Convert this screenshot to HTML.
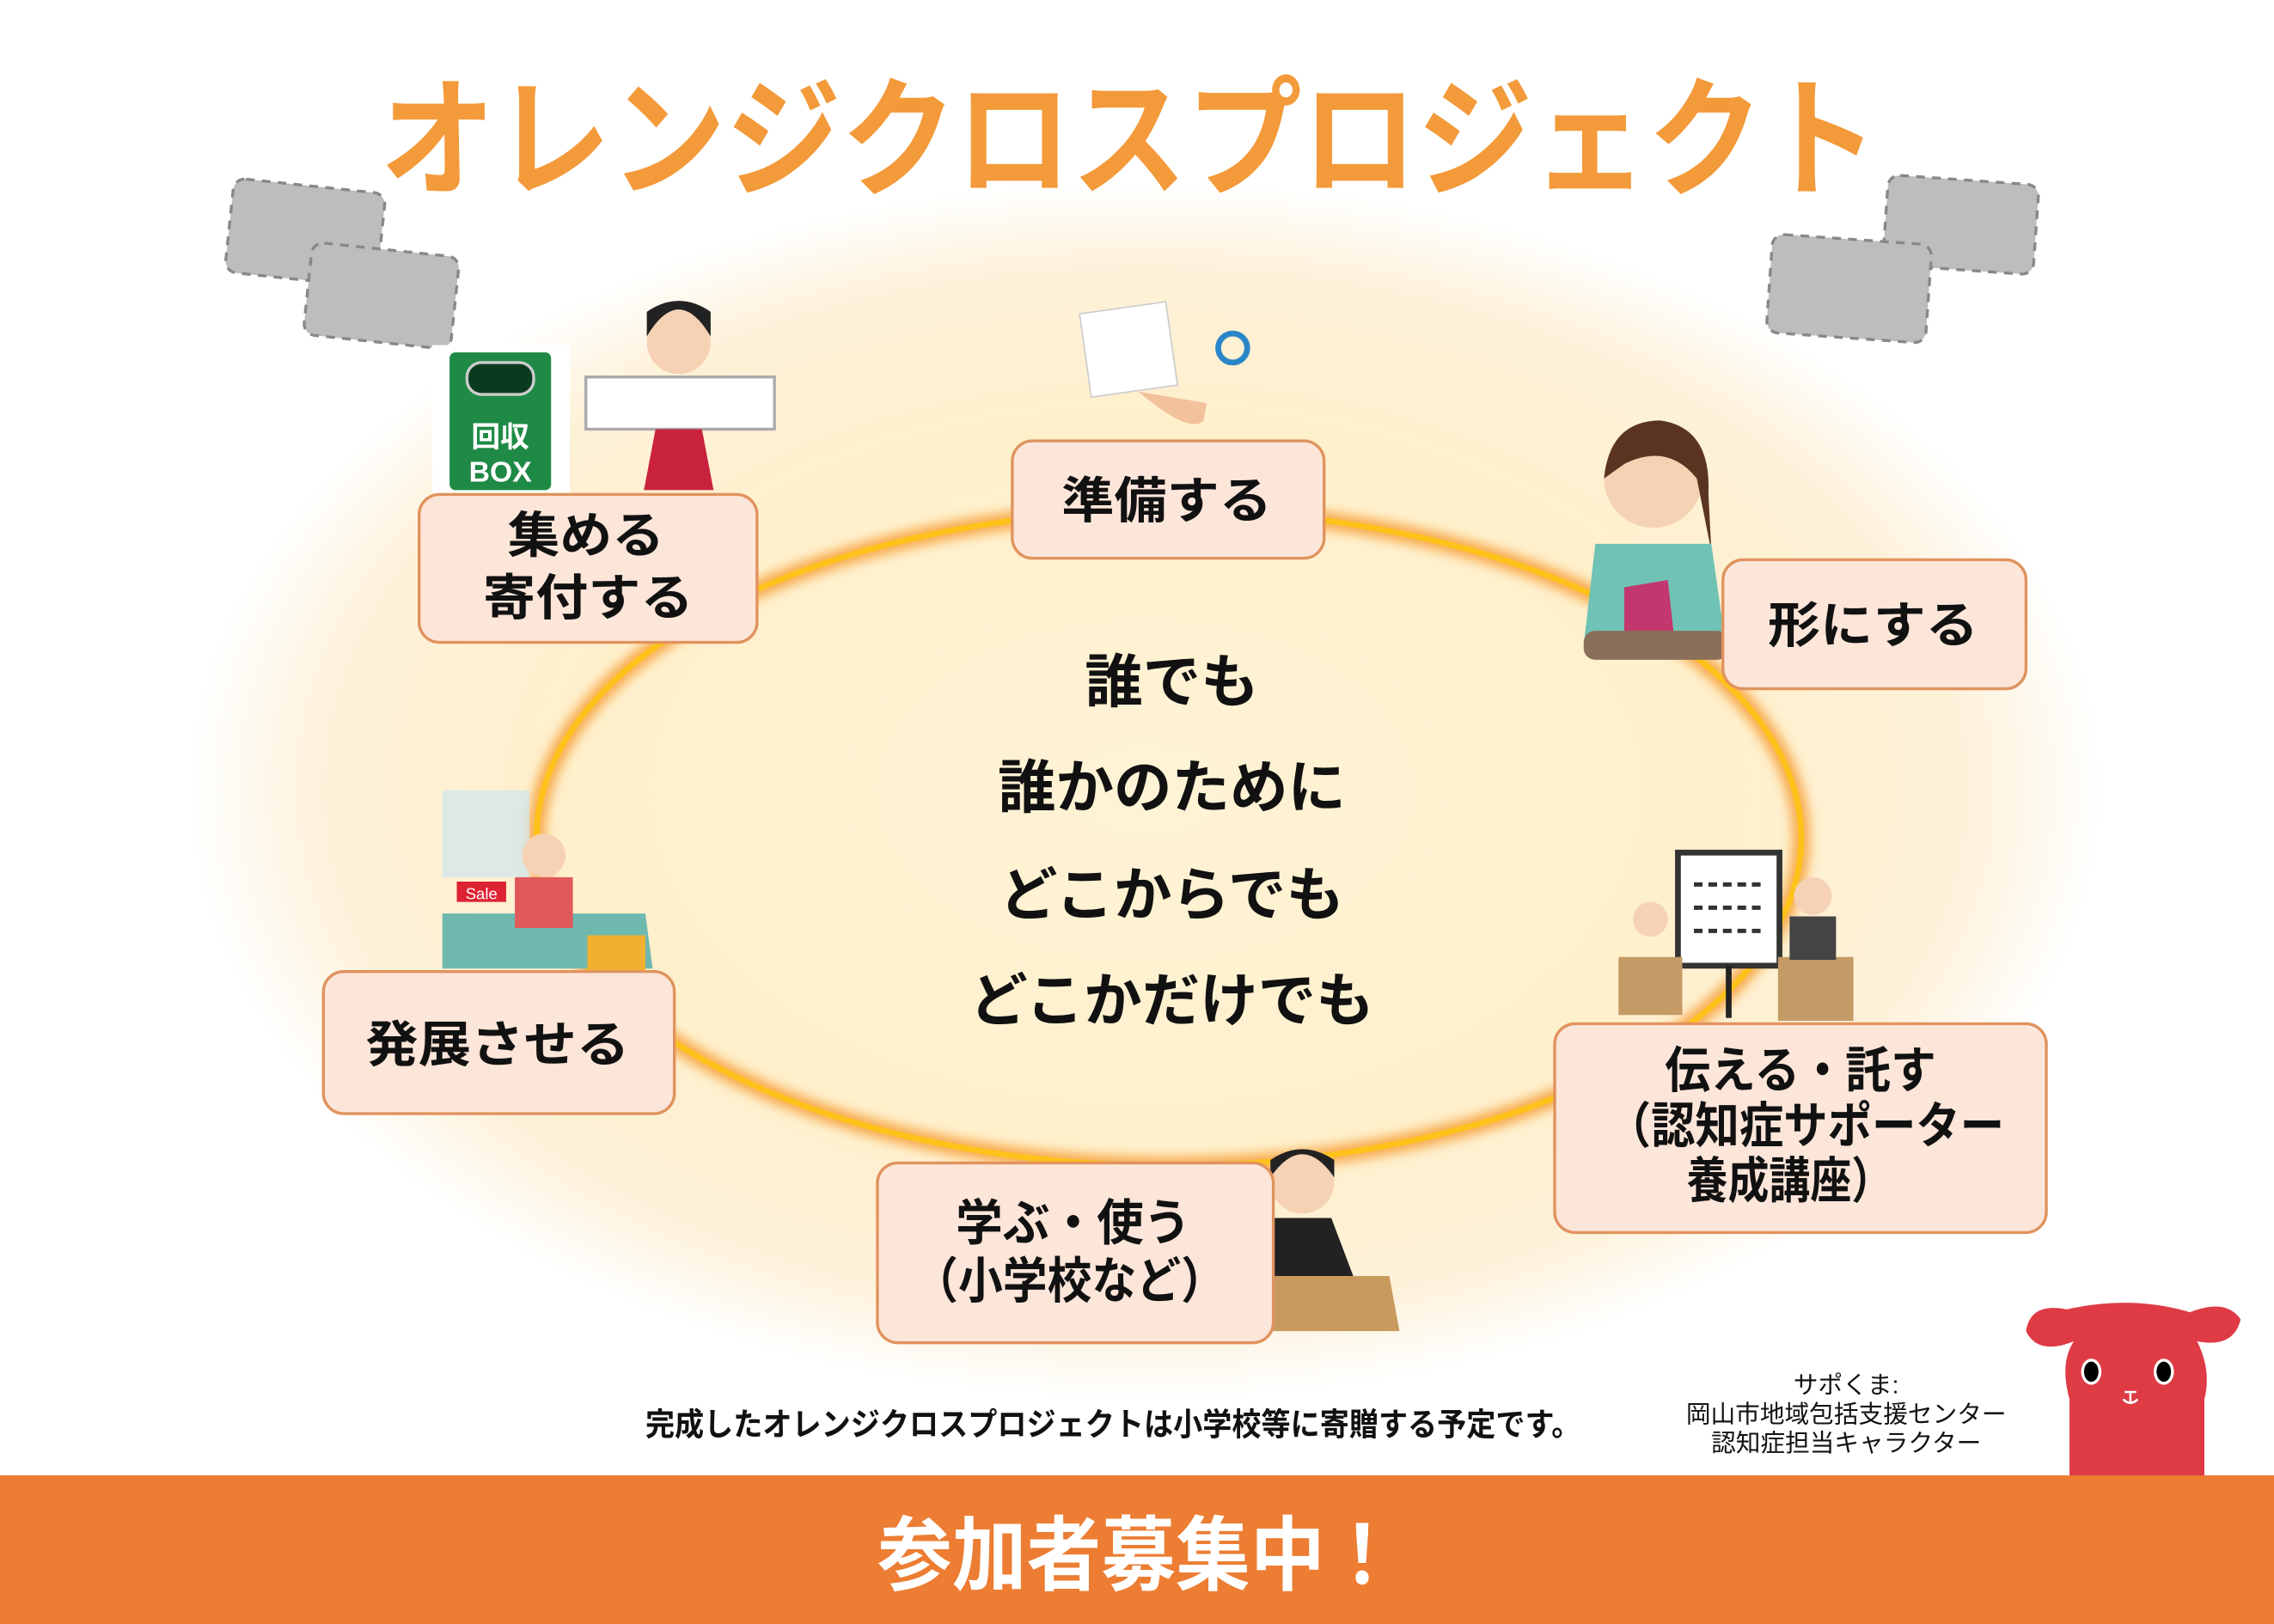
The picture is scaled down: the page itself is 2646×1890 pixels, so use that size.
<!DOCTYPE html>
<html><head><meta charset="utf-8"><style>
html,body{margin:0;padding:0;background:#fff;}
svg{display:block;}
text{font-family:"Liberation Sans","Noto Sans CJK JP",sans-serif;}
</style></head><body>
<svg width="2646" height="1890" viewBox="0 0 1568 1120" xmlns="http://www.w3.org/2000/svg">
<defs>
<radialGradient id="bg" cx="0.5" cy="0.5" r="0.5">
<stop offset="0" stop-color="#fff3d6"/><stop offset="0.6" stop-color="#fff0cc"/><stop offset="0.85" stop-color="#fdf1d8"/><stop offset="1" stop-color="#ffffff"/>
</radialGradient>
<filter id="glow" x="-20%" y="-20%" width="140%" height="140%"><feGaussianBlur stdDeviation="4"/></filter>
</defs>
<rect width="1568" height="1120" fill="#fff"/>
<ellipse cx="790" cy="545" rx="660" ry="420" fill="url(#bg)"/>
<text x="262" y="128" font-size="90" font-weight="700" fill="#f39a3a" textLength="1033" lengthAdjust="spacingAndGlyphs">オレンジクロスプロジェクト</text>
<!-- cloths -->
<g fill="#bdbdbd" stroke="#888" stroke-width="2" stroke-dasharray="6 5">
<rect x="158" y="128" width="105" height="65" rx="8" transform="rotate(6 210 160)"/>
<rect x="212" y="172" width="102" height="64" rx="8" transform="rotate(6 263 204)"/>
<rect x="1300" y="124" width="104" height="62" rx="8" transform="rotate(4 1352 155)"/>
<rect x="1220" y="165" width="110" height="68" rx="8" transform="rotate(4 1275 199)"/>
</g>
<!-- ring -->
<ellipse cx="806" cy="578" rx="436" ry="226" fill="none" stroke="#f7a94a" stroke-width="12" filter="url(#glow)"/>
<ellipse cx="806" cy="578" rx="436" ry="226" fill="none" stroke="#ffc21a" stroke-width="4"/>
<!-- illustrations -->
<rect x="298" y="238" width="95" height="102" fill="#fff"/>
<rect x="310" y="243" width="70" height="95" rx="4" fill="#1e8a46"/>
<rect x="322" y="250" width="46" height="22" rx="10" fill="#0b3b1e" stroke="#ccc" stroke-width="2"/>
<text x="345" y="308" text-anchor="middle" font-size="20" font-weight="700" fill="#fff">回収</text>
<text x="345" y="332" text-anchor="middle" font-size="20" font-weight="700" fill="#fff">BOX</text>
<circle cx="468" cy="236" r="22" fill="#f6d2b5"/><path d="M446 232 Q468 195 490 232 L490 215 Q468 200 446 215Z" fill="#222"/>
<rect x="404" y="260" width="130" height="36" fill="#fff" stroke="#aaa" stroke-width="2"/>
<path d="M452 296 L484 296 L492 338 L444 338Z" fill="#c9223e"/>
<rect x="748" y="212" width="60" height="58" fill="#fff" stroke="#ccc" transform="rotate(-8 778 240)"/>
<circle cx="850" cy="240" r="10" fill="none" stroke="#2a86c9" stroke-width="4"/>
<path d="M785 270 Q820 300 830 290 L832 278Z" fill="#f1c29c"/>
<circle cx="1140" cy="330" r="34" fill="#f6d2b5"/><path d="M1106 330 Q1110 290 1145 290 Q1180 295 1178 340 L1180 380 L1170 330 Q1150 305 1120 320Z" fill="#5a3421"/>
<path d="M1100 375 L1180 375 L1190 445 L1092 445Z" fill="#6fc2b4"/>
<path d="M1120 405 L1150 400 L1155 445 L1120 445Z" fill="#c2386e"/>
<rect x="1092" y="435" width="100" height="20" rx="8" fill="#8a6f5a"/>
<rect x="1157" y="588" width="70" height="78" fill="#fff" stroke="#333" stroke-width="4"/>
<g stroke="#333" stroke-width="3" stroke-dasharray="6 4"><line x1="1168" y1="610" x2="1218" y2="610"/><line x1="1168" y1="626" x2="1218" y2="626"/><line x1="1168" y1="642" x2="1218" y2="642"/></g>
<line x1="1192" y1="666" x2="1192" y2="702" stroke="#222" stroke-width="4"/>
<rect x="1226" y="660" width="52" height="44" fill="#c49a66"/><circle cx="1250" cy="618" r="13" fill="#f6d2b5"/><rect x="1234" y="632" width="32" height="30" fill="#444"/>
<circle cx="1138" cy="634" r="12" fill="#f6d2b5"/><rect x="1116" y="660" width="44" height="40" fill="#c49a66"/>
<rect x="305" y="545" width="60" height="60" fill="#cfe6f0" opacity="0.7"/>
<path d="M305 630 L445 630 L450 668 L305 668Z" fill="#6fb8b0"/>
<circle cx="375" cy="590" r="15" fill="#f6d2b5"/><rect x="355" y="605" width="40" height="35" fill="#e05a5a"/>
<rect x="315" y="608" width="34" height="14" fill="#d23"/><text x="332" y="620" text-anchor="middle" font-size="11" fill="#fff">Sale</text>
<rect x="405" y="645" width="40" height="25" fill="#f0b030"/>
<circle cx="898" cy="815" r="22" fill="#f6d2b5"/><path d="M876 812 Q898 780 920 812 L920 800 Q898 785 876 800Z" fill="#222"/>
<path d="M878 840 L918 840 L935 885 L862 885Z" fill="#222"/>
<path d="M838 880 L958 880 L965 918 L835 918Z" fill="#c99a5e"/>
<!-- boxes -->
<g fill="#fce5d9" stroke="#e0935e" stroke-width="2">
<rect x="698" y="304" width="215" height="81" rx="14"/>
<rect x="289" y="341" width="233" height="102" rx="14"/>
<rect x="1188" y="386" width="209" height="89" rx="14"/>
<rect x="223" y="670" width="242" height="98" rx="14"/>
<rect x="605" y="802" width="273" height="124" rx="14"/>
<rect x="1072" y="706" width="339" height="144" rx="14"/>
</g>
<g font-size="34" font-weight="700" fill="#111" lengthAdjust="spacingAndGlyphs">
<text x="732" y="357" textLength="145" lengthAdjust="spacingAndGlyphs">準備する</text>
<text x="350" y="381" textLength="108" lengthAdjust="spacingAndGlyphs">集める</text>
<text x="333" y="424" textLength="145" lengthAdjust="spacingAndGlyphs">寄付する</text>
<text x="1219" y="443" textLength="145" lengthAdjust="spacingAndGlyphs">形にする</text>
<text x="252" y="732" textLength="182" lengthAdjust="spacingAndGlyphs">発展させる</text>
<text x="659" y="855" textLength="162" lengthAdjust="spacingAndGlyphs">学ぶ・使う</text>
<text x="630" y="895" textLength="215" lengthAdjust="spacingAndGlyphs">（小学校など）</text>
<text x="1148" y="750" textLength="187" lengthAdjust="spacingAndGlyphs">伝える・託す</text>
<text x="1108" y="788" textLength="274" lengthAdjust="spacingAndGlyphs">（認知症サポーター</text>
<text x="1163" y="826" textLength="142" lengthAdjust="spacingAndGlyphs">養成講座）</text>
</g>
<g font-size="40" font-weight="700" fill="#111" text-anchor="middle">
<text x="808" y="484">誰でも</text>
<text x="808" y="557">誰かのために</text>
<text x="808" y="631">どこからでも</text>
<text x="808" y="704">どこかだけでも</text>
</g>
<text x="445" y="990" font-size="22" font-weight="700" fill="#111" textLength="645" lengthAdjust="spacingAndGlyphs">完成したオレンジクロスプロジェクトは小学校等に寄贈する予定です。</text>
<text x="1273" y="961" text-anchor="middle" font-size="17" fill="#111">サポくま:</text>
<text x="1273" y="981" text-anchor="middle" font-size="17" fill="#111">岡山市地域包括支援センター</text>
<text x="1273" y="1001" text-anchor="middle" font-size="17" fill="#111">認知症担当キャラクター</text>
<!-- bear -->
<path d="M1427 1018 L1427 965 Q1420 940 1430 925 Q1405 935 1397 918 Q1400 898 1425 903 Q1470 893 1510 905 Q1535 895 1545 910 Q1540 930 1515 925 Q1525 945 1520 965 L1520 1018Z" fill="#de3b45"/>
<ellipse cx="1442" cy="946" rx="7" ry="9" fill="#fff"/><ellipse cx="1442" cy="946" rx="5" ry="7" fill="#000"/>
<ellipse cx="1492" cy="946" rx="7" ry="9" fill="#fff"/><ellipse cx="1492" cy="946" rx="5" ry="7" fill="#000"/>
<path d="M1465 960 L1473 960 M1469 960 L1469 967 M1464 965 Q1469 970 1474 965" stroke="#fff" stroke-width="1.5" fill="none"/>
<rect x="0" y="1017.5" width="1568" height="102.5" fill="#ec7d32"/>
<text x="605" y="1092" font-size="56" font-weight="700" fill="#fff" textLength="360" lengthAdjust="spacingAndGlyphs">参加者募集中！</text>
</svg>
</body></html>
